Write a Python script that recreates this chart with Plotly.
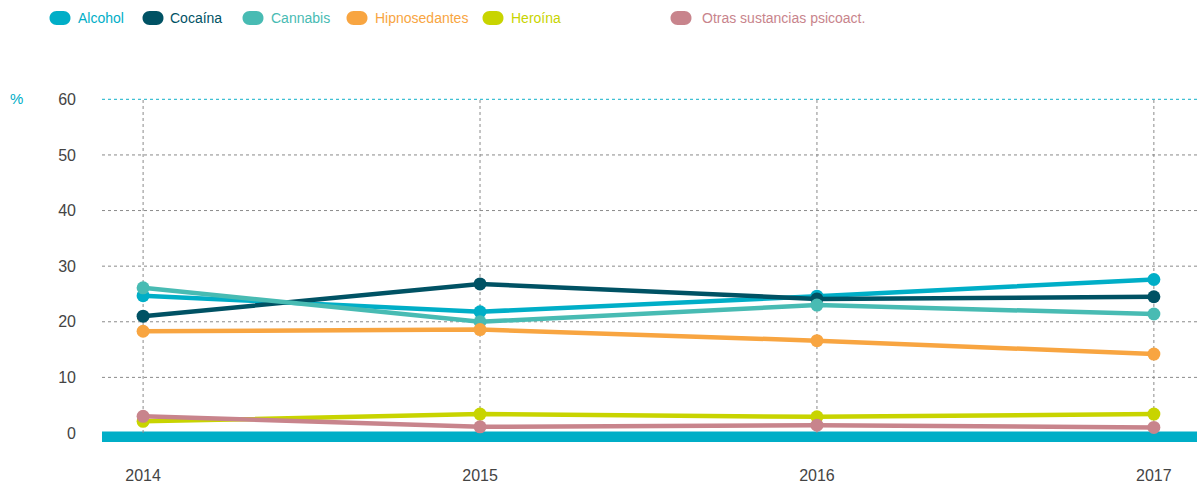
import plotly.graph_objects as go

# Share of treatment admissions by main substance (%), 2014-2017
years = [2014, 2015, 2016, 2017]
year_labels = ["2014", "2015", "2016", "2017"]

alcohol = [24.7, 21.8, 24.6, 27.6]
cocaina = [21.0, 26.8, 24.1, 24.5]
cannabis = [26.1, 20.0, 23.0, 21.4]
hipnosedantes = [18.3, 18.6, 16.6, 14.2]
heroina = [2.1, 3.4, 2.9, 3.4]
otras = [3.0, 1.1, 1.4, 1.0]

names = ["Alcohol", "Cocaína", "Cannabis", "Hipnosedantes", "Heroína",
         "Otras sustancias psicoact."]
series = [alcohol, cocaina, cannabis, hipnosedantes, heroina, otras]
colors = ["#00aec7", "#005264", "#48bbb3", "#f8a541", "#c8d400", "#c8848c"]

y_ticks = [0, 10, 20, 30, 40, 50, 60]

FONT = "Liberation Sans, Arial, Helvetica, sans-serif"
W, H = 1197, 486
M_L, M_R, M_T, M_B = 102, 0, 96, 44
Y_MIN, Y_MAX = -1.62, 60.6

fig = go.Figure()
for name, vals, col in zip(names, series, colors):
    fig.add_trace(go.Scatter(
        x=years, y=vals, name=name, mode="lines+markers",
        line=dict(color=col, width=4.5),
        marker=dict(color=col, size=13),
        showlegend=False,
    ))

shapes = []
# horizontal dotted grid (grey), top line at 60 in cyan
for v in y_ticks[1:]:
    top = v == y_ticks[-1]
    shapes.append(dict(
        type="line", xref="paper", yref="y", x0=0, x1=1, y0=v, y1=v,
        line=dict(color="#3fc0d3" if top else "#8a8a8a",
                  width=1.3 if top else 1, dash="dot"),
        layer="below",
    ))
# vertical dotted grid at each year, from the base up to the top line
for yr in years:
    shapes.append(dict(
        type="line", xref="x", yref="y", x0=yr, x1=yr,
        y0=0, y1=y_ticks[-1],
        line=dict(color="#8a8a8a", width=1, dash="dot"), layer="below",
    ))
# teal base band under the zero line
shapes.append(dict(type="rect", xref="paper", yref="y", x0=0, x1=1,
                   y0=Y_MIN, y1=0.25, fillcolor="#00aec7",
                   line=dict(width=0), layer="below"))

# legend: pills + coloured labels along the top
annotations = []
pill_x = [60, 153, 253, 357, 493, 681]
text_x = [76, 168, 269, 373, 509, 700]
plot_w = W - M_L - M_R
plot_h = H - M_T - M_B
leg_y = 18
pill_path = ("M -3.5,-7 L 3.5,-7 C 7.37,-7 10.5,-3.87 10.5,0 C 10.5,3.87 7.37,7 3.5,7 "
             "L -3.5,7 C -7.37,7 -10.5,3.87 -10.5,0 C -10.5,-3.87 -7.37,-7 -3.5,-7 Z")
for name, col, px, tx in zip(names, colors, pill_x, text_x):
    shapes.append(dict(
        type="path", xref="paper", yref="paper",
        xsizemode="pixel", ysizemode="pixel",
        xanchor=(px - M_L) / plot_w, yanchor=(H - M_B - leg_y) / plot_h,
        path=pill_path, fillcolor=col, line=dict(width=0),
    ))
    annotations.append(dict(
        text=name, xref="paper", yref="paper",
        x=(tx - M_L) / plot_w, y=(H - M_B - leg_y) / plot_h,
        xanchor="left", yanchor="middle", showarrow=False,
        font=dict(family=FONT, size=14, color=col),
    ))

# unit label
annotations.append(dict(
    text="%", xref="paper", yref="paper",
    x=(16 - M_L) / plot_w, y=(H - M_B - 99) / plot_h,
    xanchor="center", yanchor="middle", showarrow=False,
    font=dict(family=FONT, size=15, color="#00aec7"),
))

fig.update_layout(
    width=W, height=H,
    margin=dict(l=M_L, r=M_R, t=M_T, b=M_B),
    paper_bgcolor="white", plot_bgcolor="white",
    font=dict(family=FONT, size=16, color="#444444"),
    shapes=shapes, annotations=annotations,
    xaxis=dict(
        range=[2013.878, 2017.128], tickvals=years, ticktext=year_labels,
        showgrid=False, zeroline=False, showline=False, ticks="",
        ticklabelstandoff=22, fixedrange=True,
    ),
    yaxis=dict(
        range=[Y_MIN, Y_MAX], tickvals=y_ticks,
        showgrid=False, zeroline=False, showline=False, ticks="",
        ticklabelstandoff=25, fixedrange=True,
    ),
)

fig.write_html("out.html")
